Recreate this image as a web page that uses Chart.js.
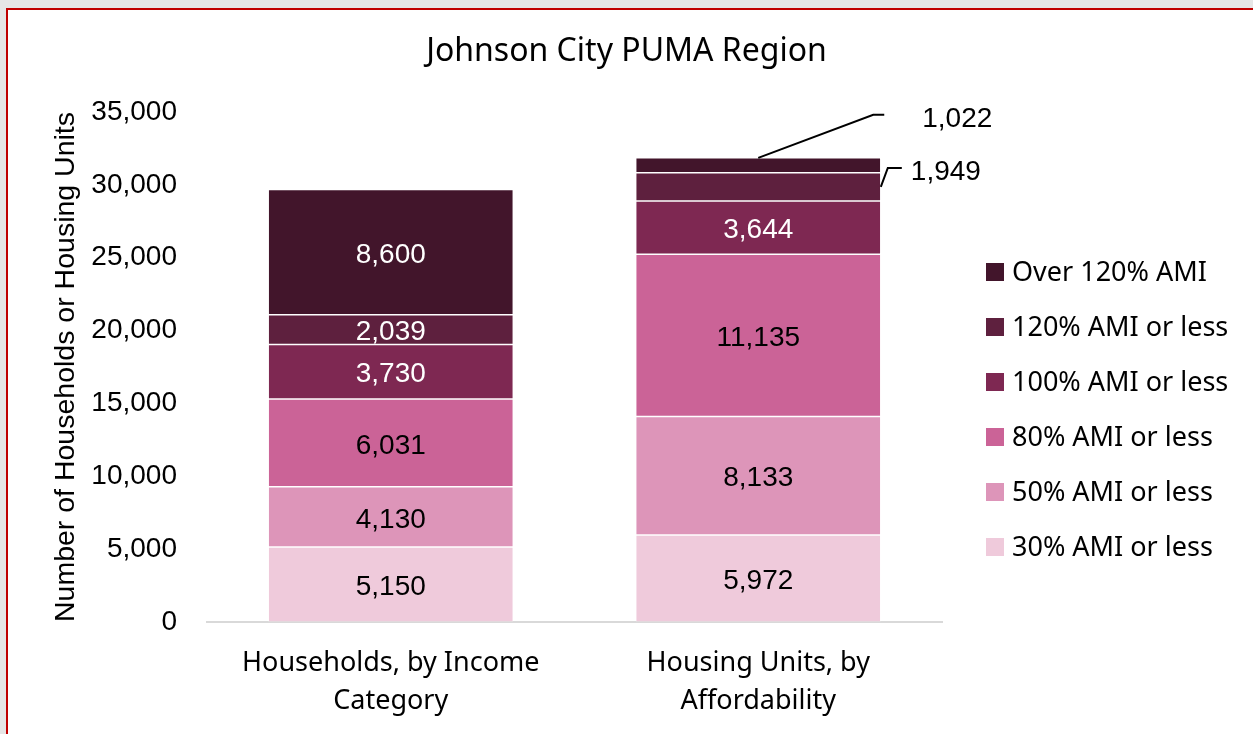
<!DOCTYPE html>
<html>
<head>
<meta charset="utf-8">
<script src="https://cdn.jsdelivr.net/npm/chart.js@4.4.1/dist/chart.umd.min.js"></script>
<style>
  html, body { margin: 0; padding: 0; background: #e6e6e6; width: 1253px; height: 734px; overflow: hidden; }
  #panel { position: absolute; left: 6px; top: 8px; width: 1260px; height: 740px; background: #ffffff; border: 2.5px solid #c00000; box-sizing: border-box; }
  #wrap { position: absolute; left: 0; top: 0; width: 1253px; height: 734px; }
</style>
</head>
<body>
<div id="panel"></div>
<div id="wrap"><canvas id="c" width="1253" height="734"></canvas></div>
<script>
const categories = [["Households, by Income", "Category"], ["Housing Units, by", "Affordability"]];
const seriesNames = ["30% AMI or less", "50% AMI or less", "80% AMI or less", "100% AMI or less", "120% AMI or less", "Over 120% AMI"];
const ami30 = [5150, 5972];
const ami50 = [4130, 8133];
const ami80 = [6031, 11135];
const ami100 = [3730, 3644];
const ami120 = [2039, 1949];
const amiOver120 = [8600, 1022];
const yTicks = [0, 5000, 10000, 15000, 20000, 25000, 30000, 35000];

const seriesValues = [ami30, ami50, ami80, ami100, ami120, amiOver120];
const seriesColors = ["#EFCADB", "#DD95B9", "#CB6397", "#7E2852", "#5E203E", "#42152B"];
const labelColors = ["#000000", "#000000", "#000000", "#ffffff", "#ffffff", "#ffffff"];
const SANS = '"Noto Sans", Roboto, sans-serif';
const ARIAL = '"Liberation Sans", Arial, sans-serif';

const fmt = v => Number(v).toLocaleString('en-US');

const datasets = seriesNames.map((n, i) => ({
  label: n,
  data: seriesValues[i],
  backgroundColor: seriesColors[i],
  borderColor: 'rgba(255,255,255,0.2)',
  borderWidth: 0.75,
  borderSkipped: false,
  categoryPercentage: 1.0,
  barPercentage: 0.667
}));

const dataLabelPlugin = {
  id: 'dataLabels',
  afterDatasetsDraw(chart) {
    const ctx = chart.ctx;
    ctx.save();
    ctx.font = '28px ' + ARIAL;
    ctx.textAlign = 'center';
    ctx.textBaseline = 'middle';
    chart.data.datasets.forEach((ds, di) => {
      const meta = chart.getDatasetMeta(di);
      meta.data.forEach((bar, i) => {
        const text = fmt(ds.data[i]);
        const cx = bar.x;
        const cy = (bar.y + bar.base) / 2;
        const right = bar.x + bar.width / 2;
        if (di === 5 && i === 1) {
          ctx.strokeStyle = '#000';
          ctx.lineWidth = 2;
          ctx.beginPath();
          ctx.moveTo(cx, bar.y);
          ctx.lineTo(cx + 115, bar.y - 43);
          ctx.lineTo(cx + 126, bar.y - 43);
          ctx.stroke();
          ctx.fillStyle = '#000';
          ctx.textAlign = 'left';
          ctx.fillText(text, cx + 164, bar.y - 39);
          ctx.textAlign = 'center';
        } else if (di === 4 && i === 1) {
          ctx.strokeStyle = '#000';
          ctx.lineWidth = 2;
          ctx.beginPath();
          ctx.moveTo(right, cy);
          ctx.lineTo(right + 7, cy - 19);
          ctx.lineTo(right + 21, cy - 19);
          ctx.stroke();
          ctx.fillStyle = '#000';
          ctx.textAlign = 'left';
          ctx.fillText(text, right + 30, cy - 15);
          ctx.textAlign = 'center';
        } else {
          ctx.fillStyle = labelColors[di];
          ctx.fillText(text, cx, cy + 3);
        }
      });
    });
    ctx.restore();
  }
};

const legendPlugin = {
  id: 'customLegend',
  afterDraw(chart) {
    const ctx = chart.ctx;
    ctx.save();
    ctx.font = '27px ' + SANS;
    ctx.textBaseline = 'middle';
    ctx.textAlign = 'left';
    const n = chart.data.datasets.length;
    for (let k = 0; k < n; k++) {
      const di = n - 1 - k;
      const ds = chart.data.datasets[di];
      const cy = 272 + k * 55;
      ctx.fillStyle = ds.backgroundColor;
      ctx.fillRect(986, cy - 9, 18, 18);
      ctx.fillStyle = '#000';
      ctx.fillText(ds.label, 1012, cy + 1);
    }
    ctx.restore();
  }
};

new Chart(document.getElementById('c'), {
  type: 'bar',
  data: { labels: categories, datasets },
  options: {
    responsive: false,
    animation: false,
    layout: { padding: 0 },
    plugins: {
      legend: { display: false },
      tooltip: { enabled: false },
      title: {
        display: true,
        text: 'Johnson City PUMA Region',
        color: '#000',
        font: { family: SANS, size: 32, weight: 'normal', lineHeight: 1.2 },
        padding: { top: 33, bottom: 40.6 }
      }
    },
    scales: {
      x: {
        stacked: true,
        grid: { display: false, drawTicks: false },
        border: { display: true, color: '#d9d9d9', width: 2 },
        ticks: {
          color: '#000',
          padding: 23,
          maxRotation: 0,
          autoSkip: false,
          font: { family: SANS, size: 27, lineHeight: 1.38 }
        },
        afterFit(scale) { scale.height = 112; }
      },
      y: {
        stacked: true,
        min: 0,
        max: 35000,
        afterBuildTicks(scale) { scale.ticks = yTicks.map(v => ({ value: v })); },
        grid: { display: false, drawTicks: false },
        border: { display: false },
        ticks: {
          color: '#000',
          padding: 30,
          font: { family: ARIAL, size: 28 },
          callback: v => fmt(v)
        },
        title: {
          display: true,
          text: 'Number of Households or Housing Units',
          color: '#000',
          font: { family: ARIAL, size: 28.5, lineHeight: 1.2 },
          padding: { top: 49, bottom: 0 }
        },
        afterFit(scale) { scale.width = 207; }
      },
      legendSpace: {
        type: 'linear',
        position: 'right',
        display: true,
        grid: { display: false, drawTicks: false },
        border: { display: false },
        ticks: { display: false },
        afterFit(scale) { scale.width = 311; }
      }
    }
  },
  plugins: [dataLabelPlugin, legendPlugin]
});
</script>
</body>
</html>
